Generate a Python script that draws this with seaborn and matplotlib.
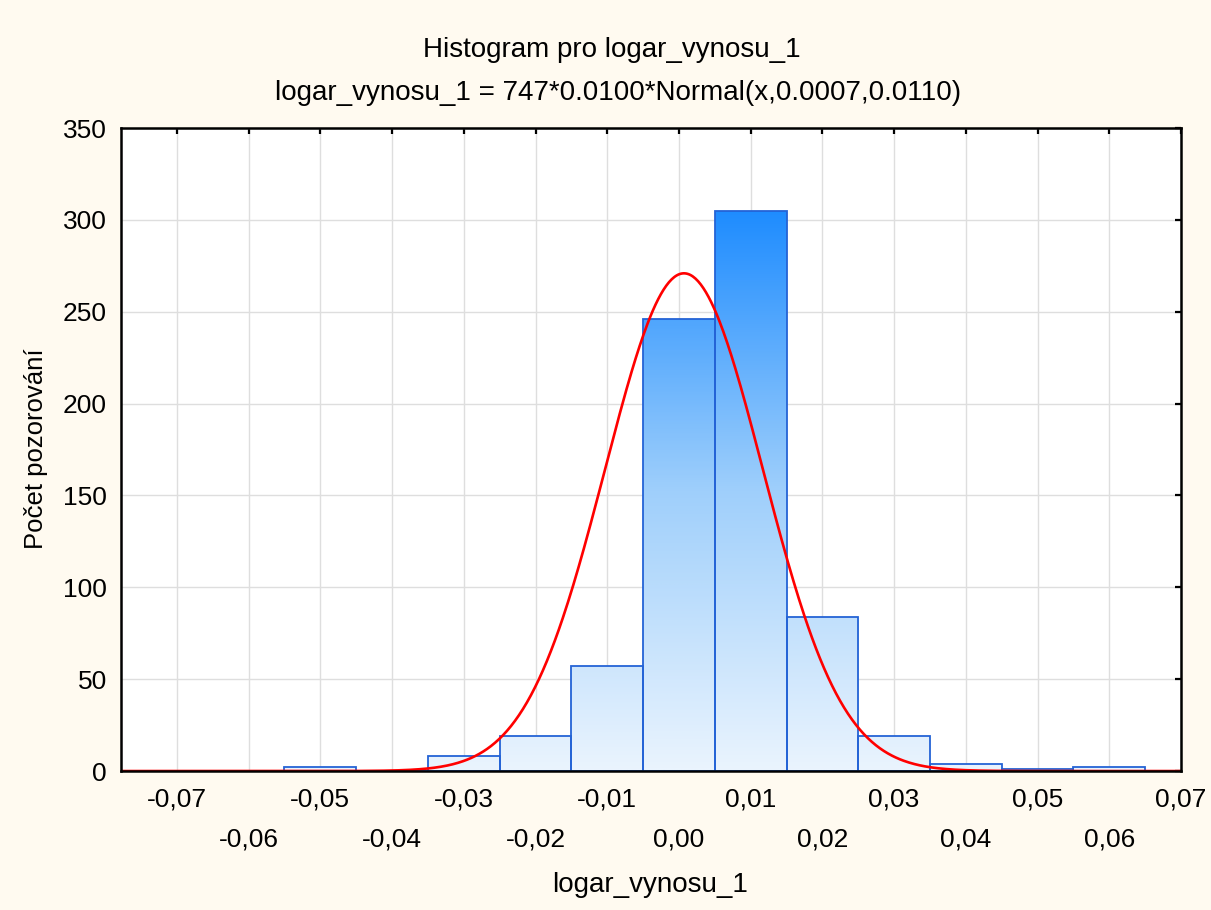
import numpy as np
import pandas as pd
import matplotlib
matplotlib.use("Agg")
import matplotlib.pyplot as plt
import seaborn as sns
from matplotlib.colors import LinearSegmentedColormap, Normalize
from matplotlib.ticker import FixedLocator

# Histogram data: bin centres (width 0.01) and observation counts
bin_centers = [-0.07, -0.06, -0.05, -0.04, -0.03, -0.02, -0.01,
               0.00, 0.01, 0.02, 0.03, 0.04, 0.05, 0.06]
counts = [0, 0, 2, 0, 8, 19, 57, 246, 305, 84, 19, 4, 1, 2]

# Fitted normal curve parameters
n_obs = 747
bin_width = 0.01
mu = 0.0007
sigma = 0.0110

x_major = [-0.07, -0.05, -0.03, -0.01, 0.01, 0.03, 0.05, 0.07]
x_minor = [-0.06, -0.04, -0.02, 0.00, 0.02, 0.04, 0.06]
y_ticks = [0, 50, 100, 150, 200, 250, 300, 350]

title_1 = "Histogram pro logar_vynosu_1"
title_2 = "logar_vynosu_1 = 747*0.0100*Normal(x,0.0007,0.0110)"
x_label = "logar_vynosu_1"
y_label = "Počet pozorování"

sns.set_theme(style="white")
plt.rcParams["font.family"] = ["Liberation Sans", "DejaVu Sans"]
plt.rcParams["text.color"] = "black"
FS_TICK = 19
FS_TEXT = 20
BG = "#FFFAF0"
EDGE = "#2463D6"

fig = plt.figure(figsize=(12.11, 9.10), dpi=100, facecolor=BG)
ax = fig.add_axes([0.0999, 0.1527, 0.8753, 0.7066])
ax.set_facecolor("white")

df = pd.DataFrame({"x": bin_centers, "n": counts})
sns.histplot(data=df, x="x", weights="n", bins=len(bin_centers),
             binrange=(bin_centers[0] - bin_width / 2, bin_centers[-1] + bin_width / 2),
             stat="count", ax=ax, color=EDGE, linewidth=1.3)

# vertical gradient fill shared by all bars
cmap = LinearSegmentedColormap.from_list("bars", ["#EAF4FE", "#9FCFFB", "#1E8CFF"])
norm = Normalize(vmin=0, vmax=max(counts))
for p in list(ax.patches):
    p.set_facecolor("none")
    p.set_edgecolor(EDGE)
    p.set_zorder(3)
    x0 = p.get_x()
    w = p.get_width()
    h = p.get_height()
    if h <= 0:
        continue
    grad = np.linspace(0, h, 256).reshape(-1, 1)
    im = ax.imshow(grad, extent=[x0, x0 + w, 0, h], origin="lower",
                   aspect="auto", cmap=cmap, norm=norm, zorder=2,
                   interpolation="bilinear")
    im.set_clip_path(p)

# fitted normal curve scaled to counts
xs = np.linspace(-0.0778, 0.0700, 800)
ys = n_obs * bin_width * np.exp(-0.5 * ((xs - mu) / sigma) ** 2) / (sigma * np.sqrt(2 * np.pi))
sns.lineplot(x=xs, y=ys, color="red", linewidth=1.9, ax=ax, zorder=4)

ax.set_xlim(-0.0778, 0.0700)
ax.set_ylim(0, 350)

ax.xaxis.set_major_locator(FixedLocator(x_major))
ax.xaxis.set_minor_locator(FixedLocator(x_minor))
ax.set_xticklabels([f"{v:.2f}".replace(".", ",") for v in x_major])
ax.set_xticklabels([f"{v:.2f}".replace(".", ",").replace("-0,00", "0,00") for v in x_minor], minor=True)
ax.set_yticks(y_ticks)
ax.set_yticklabels([str(v) for v in y_ticks])

ax.tick_params(axis="both", which="both", direction="in", length=4, width=1.6,
               color="black", labelsize=FS_TICK, labelcolor="black",
               top=True, right=True)
ax.tick_params(axis="x", which="major", pad=12)
ax.tick_params(axis="x", which="minor", pad=41)
ax.tick_params(axis="y", pad=10)

ax.set_axisbelow(True)
ax.grid(True, which="both", axis="both", color="#DEDEDE", linewidth=1.0)

for s in ax.spines.values():
    s.set_visible(True)
    s.set_color("black")
    s.set_linewidth(1.8)
    s.set_zorder(5)

ax.set_xlabel("")
ax.set_ylabel("")

fig.text(612 / 1211, 1 - 50 / 910, title_1, ha="center", va="center", fontsize=FS_TEXT)
fig.text(618 / 1211, 1 - 93 / 910, title_2, ha="center", va="center", fontsize=FS_TEXT)
fig.text(650 / 1211, 1 - 885 / 910, x_label, ha="center", va="center", fontsize=FS_TEXT)
fig.text(36 / 1211, 1 - 449 / 910, y_label, ha="center", va="center",
         rotation=90, fontsize=18.5)

fig.savefig("out.png", dpi=100, facecolor=BG)
